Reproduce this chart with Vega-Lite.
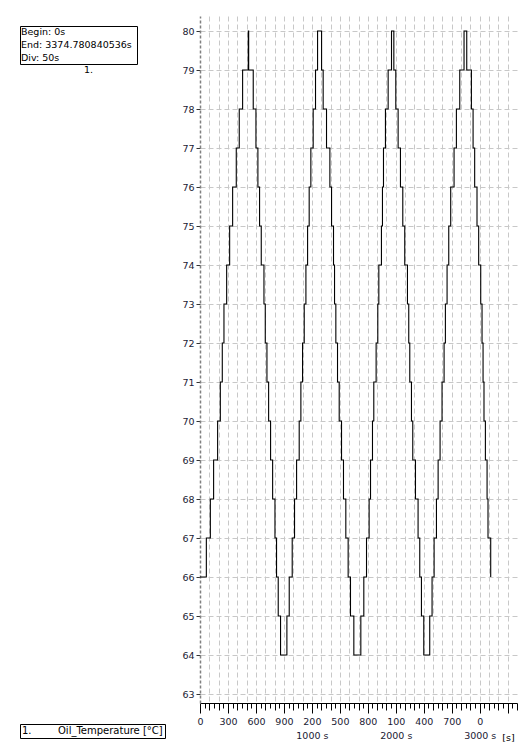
{
  "$schema": "https://vega.github.io/schema/vega-lite/v6.json",
  "padding": {"left": 19, "top": 16, "right": 0, "bottom": 0},
  "background": "white",
  "config": {"font": "DejaVu Sans", "concat": {"spacing": 43}},
  "resolve": {"scale": {"color": "shared"}, "legend": {"color": "shared"}},
  "hconcat": [
    {
      "spacing": 8,
      "vconcat": [
        {
          "width": 117,
          "height": 1,
          "view": {"stroke": null},
          "data": {"values": [{}]},
          "mark": {"type": "text", "fontSize": 0, "text": ""}
        },
        {
          "width": 117,
          "height": 38,
          "view": {"stroke": "#000", "strokeWidth": 1},
          "data": {"values": [{"line": "Begin: 0s"}, {"line": "End: 3374.780840536s"}, {"line": "Div: 50s"}]},
          "mark": {"type": "text", "align": "left", "baseline": "middle", "dx": 1, "fontSize": 9.5, "color": "#000"},
          "encoding": {
            "x": {"datum": 0, "type": "quantitative", "scale": {"domain": [0, 1]},
                  "axis": {"title": "1.", "titleX": 68, "titleAlign": "center", "labels": false, "ticks": false, "domain": false, "grid": false, "titlePadding": 0, "titleFontSize": 9.5, "titleFontWeight": "normal", "titleColor": "#000"}},
            "y": {"field": "line", "type": "nominal", "sort": null, "axis": null, "scale": {"paddingOuter": 0.1}},
            "text": {"field": "line"}
          }
        }
      ]
    },
    {
      "width": 317,
      "height": 687,
      "view": {"stroke": null},
      "data": {"values": [
        {"t": 0, "v": 66}, {"t": 68, "v": 67}, {"t": 111, "v": 68}, {"t": 146, "v": 69}, {"t": 189, "v": 70},
        {"t": 218, "v": 71}, {"t": 239, "v": 72}, {"t": 257, "v": 73}, {"t": 286, "v": 74}, {"t": 318, "v": 75},
        {"t": 350, "v": 76}, {"t": 389, "v": 77}, {"t": 421, "v": 78}, {"t": 457, "v": 79}, {"t": 518, "v": 80},
        {"t": 522, "v": 79}, {"t": 571, "v": 78}, {"t": 600, "v": 77}, {"t": 621, "v": 76}, {"t": 639, "v": 75},
        {"t": 657, "v": 74}, {"t": 686, "v": 73}, {"t": 700, "v": 72}, {"t": 718, "v": 71}, {"t": 736, "v": 70},
        {"t": 757, "v": 69}, {"t": 779, "v": 68}, {"t": 804, "v": 67}, {"t": 821, "v": 66}, {"t": 839, "v": 65},
        {"t": 864, "v": 64}, {"t": 932, "v": 65}, {"t": 957, "v": 66}, {"t": 989, "v": 67}, {"t": 1014, "v": 68},
        {"t": 1036, "v": 69}, {"t": 1064, "v": 70}, {"t": 1082, "v": 71}, {"t": 1100, "v": 72}, {"t": 1118, "v": 73},
        {"t": 1136, "v": 74}, {"t": 1154, "v": 75}, {"t": 1171, "v": 76}, {"t": 1189, "v": 77}, {"t": 1214, "v": 78},
        {"t": 1239, "v": 79}, {"t": 1261, "v": 80}, {"t": 1304, "v": 79}, {"t": 1321, "v": 78}, {"t": 1357, "v": 77},
        {"t": 1393, "v": 76}, {"t": 1411, "v": 75}, {"t": 1432, "v": 74}, {"t": 1443, "v": 73}, {"t": 1457, "v": 72},
        {"t": 1475, "v": 71}, {"t": 1493, "v": 70}, {"t": 1518, "v": 69}, {"t": 1539, "v": 68}, {"t": 1564, "v": 67},
        {"t": 1589, "v": 66}, {"t": 1614, "v": 65}, {"t": 1650, "v": 64}, {"t": 1725, "v": 65}, {"t": 1757, "v": 66},
        {"t": 1786, "v": 67}, {"t": 1814, "v": 68}, {"t": 1829, "v": 69}, {"t": 1850, "v": 70}, {"t": 1864, "v": 71},
        {"t": 1889, "v": 72}, {"t": 1907, "v": 73}, {"t": 1918, "v": 74}, {"t": 1946, "v": 75}, {"t": 1957, "v": 76},
        {"t": 1968, "v": 77}, {"t": 1989, "v": 78}, {"t": 2018, "v": 79}, {"t": 2054, "v": 80}, {"t": 2079, "v": 79},
        {"t": 2100, "v": 78}, {"t": 2125, "v": 77}, {"t": 2150, "v": 76}, {"t": 2175, "v": 75}, {"t": 2196, "v": 74},
        {"t": 2225, "v": 73}, {"t": 2239, "v": 72}, {"t": 2250, "v": 71}, {"t": 2268, "v": 70}, {"t": 2282, "v": 69},
        {"t": 2311, "v": 68}, {"t": 2339, "v": 67}, {"t": 2357, "v": 66}, {"t": 2375, "v": 65}, {"t": 2400, "v": 64},
        {"t": 2464, "v": 65}, {"t": 2489, "v": 66}, {"t": 2511, "v": 67}, {"t": 2536, "v": 68}, {"t": 2554, "v": 69},
        {"t": 2575, "v": 70}, {"t": 2596, "v": 71}, {"t": 2618, "v": 72}, {"t": 2632, "v": 73}, {"t": 2650, "v": 74},
        {"t": 2668, "v": 75}, {"t": 2689, "v": 76}, {"t": 2725, "v": 77}, {"t": 2750, "v": 78}, {"t": 2786, "v": 79},
        {"t": 2832, "v": 80}, {"t": 2861, "v": 79}, {"t": 2911, "v": 78}, {"t": 2929, "v": 77}, {"t": 2946, "v": 76},
        {"t": 2971, "v": 75}, {"t": 2989, "v": 74}, {"t": 3011, "v": 73}, {"t": 3025, "v": 72}, {"t": 3036, "v": 71},
        {"t": 3046, "v": 70}, {"t": 3061, "v": 69}, {"t": 3079, "v": 68}, {"t": 3089, "v": 67}, {"t": 3118, "v": 66}
      ]},
      "mark": {"type": "line", "interpolate": "step-after", "strokeWidth": 1.1},
      "encoding": {
        "x": {
          "field": "t", "type": "quantitative",
          "scale": {"domain": [0, 3400], "nice": false, "zero": false},
          "axis": {
            "values": [0,50,100,150,200,250,300,350,400,450,500,550,600,650,700,750,800,850,900,950,1000,1050,1100,1150,1200,1250,1300,1350,1400,1450,1500,1550,1600,1650,1700,1750,1800,1850,1900,1950,2000,2050,2100,2150,2200,2250,2300,2350,2400,2450,2500,2550,2600,2650,2700,2750,2800,2850,2900,2950,3000,3050,3100,3150,3200,3250,3300,3350,3400],
            "title": "[s]", "titleX": 308, "titleY": 34, "titleAlign": "center", "titleBaseline": "middle",
            "titleFontSize": 9.5, "titleFontWeight": "normal", "titleColor": "#000",
            "grid": true, "gridColor": "#c8c8c8", "gridDash": [5, 3], "gridWidth": 1,
            "gridOpacity": {"condition": {"test": "datum.value % 100 === 0 && datum.value > 0 && datum.value < 3400", "value": 1}, "value": 0},
            "domain": true, "domainColor": "#000", "domainWidth": 1,
            "ticks": true, "tickColor": "#000", "tickWidth": 1,
            "tickSize": {"condition": [{"test": "datum.value % 300 === 0", "value": 10}, {"test": "datum.value % 100 === 0", "value": 7}], "value": 5},
            "labelPadding": 3,
            "labelExpr": "datum.value % 300 !== 0 || datum.value > 3000 ? '' : datum.value === 1200 ? ['200', '1000 s'] : datum.value === 2100 ? ['100', '2000 s'] : datum.value === 3000 ? ['0', '3000 s'] : '' + (datum.value % 1000)",
            "labelOverlap": false, "labelFlush": false, "labelBound": false,
            "labelFontSize": 9.5, "labelColor": "#1a1a33", "labelLineHeight": 14
          }
        },
        "y": {
          "field": "v", "type": "quantitative",
          "scale": {"domain": [62.77, 80.385], "nice": false, "zero": false},
          "axis": {
            "values": [63,64,65,66,67,68,69,70,71,72,73,74,75,76,77,78,79,80],
            "title": null,
            "grid": true, "gridColor": "#c8c8c8", "gridDash": [5, 3],
            "domain": true, "domainColor": "#808080", "domainDash": [3, 2], "domainWidth": 1.5,
            "ticks": true, "tickSize": 4, "tickColor": "#333",
            "labelPadding": 2, "labelFontSize": 9.5, "labelColor": "#1a1a33"
          }
        },
        "color": {
          "datum": "Oil_Temperature [°C]", "type": "nominal",
          "scale": {"range": ["#000"]},
          "legend": {
            "orient": "none", "legendX": 0, "legendY": 708,
            "title": "1.", "titleOrient": "left", "titlePadding": 16,
            "titleFontWeight": "normal", "titleFontSize": 10, "titleColor": "#000",
            "labelFontSize": 10, "labelColor": "#000",
            "symbolSize": 0, "symbolOpacity": 0, "symbolStrokeWidth": 0, "labelOffset": 0,
            "padding": 2, "strokeColor": "#000", "fillColor": "#fff", "cornerRadius": 0
          }
        }
      }
    }
  ]
}
